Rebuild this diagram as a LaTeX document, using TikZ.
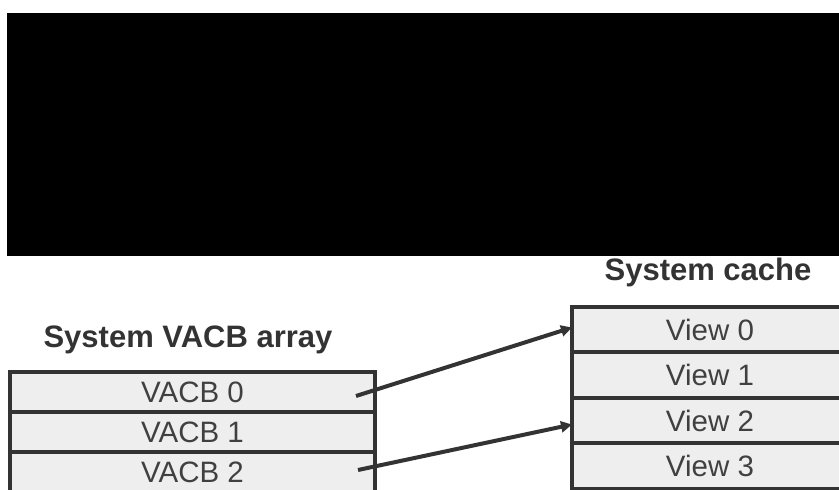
\documentclass[tikz,border=0pt]{standalone}
\usepackage{fontspec}
\setmainfont{Liberation Sans}
\usetikzlibrary{arrows.meta}
\definecolor{rowfill}{HTML}{EEEEEE}
\definecolor{edge}{HTML}{333333}
\definecolor{txt}{HTML}{404040}
\tikzset{
  lrow/.style={draw=edge, fill=rowfill, line width=4pt, minimum width=365pt, minimum height=40pt, inner sep=0pt, outer sep=0pt, text=txt, font=\fontsize{29.5}{29.5}\selectfont},
  rrow/.style={draw=edge, fill=rowfill, line width=4pt, minimum width=276pt, minimum height=45.5pt, inner sep=0pt, outer sep=0pt, text=txt, font=\fontsize{29.5}{29.5}\selectfont},
  ttl/.style={font=\bfseries\fontsize{31}{31}\selectfont, text=edge, inner sep=0pt},
  arr/.style={draw=edge, line width=4pt, -{Triangle[length=11pt,width=11pt]}}
}
\begin{document}
\begin{tikzpicture}[x=1pt,y=-1pt]
\useasboundingbox (0,0) rectangle (839,490);
\clip (0,0) rectangle (839,490);
\fill[black] (7,13) rectangle (845,256);
% left array
\node[ttl, anchor=base] (ltitle) at (188,347) {System VACB array};
\node[lrow] (a0) at (192.5,392) {VACB 0};
\node[lrow] (a1) at (192.5,432) {VACB 1};
\node[lrow] (a2) at (192.5,472) {VACB 2};
% right array
\node[ttl, anchor=base] (rtitle) at (708,280) {System cache};
\node[rrow] (v0) at (710,329.5) {View 0};
\node[rrow] (v1) at (710,375) {View 1};
\node[rrow] (v2) at (710,420.5) {View 2};
\node[rrow] (v3) at (710,466) {View 3};
% arrows
\coordinate (s0) at (356,396);
\coordinate (s2) at (358,470);
\draw[arr] (s0) -- ([yshift=2pt]v0.west);
\draw[arr] (s2) -- ([yshift=-4pt]v2.west);
\end{tikzpicture}
\end{document}
